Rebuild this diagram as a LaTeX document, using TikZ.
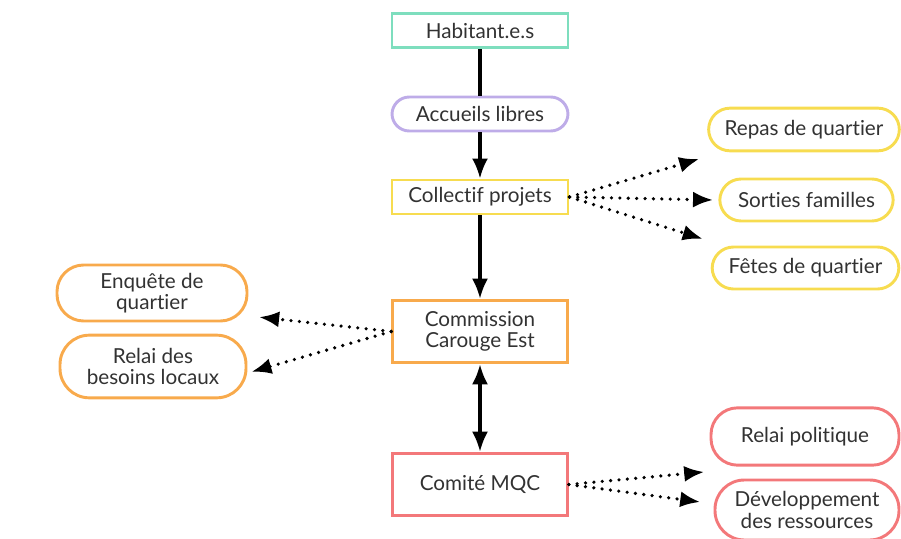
\documentclass[tikz,border=0pt]{standalone}
\usepackage{fontspec}
\setmainfont{Lato}[Ligatures=NoCommon]
\usetikzlibrary{arrows.meta,positioning}
\definecolor{habit}{RGB}{126,222,190}
\definecolor{accueil}{RGB}{190,172,232}
\definecolor{projet}{RGB}{247,220,80}
\definecolor{commis}{RGB}{248,170,76}
\definecolor{comite}{RGB}{243,120,122}
\definecolor{txt}{RGB}{50,50,50}

\begin{document}
\begin{tikzpicture}[x=0.75pt,y=-0.75pt,
    box/.style={draw,line width=2.2pt,text=txt,align=center,font=\fontsize{15.5}{16}\selectfont,inner sep=2pt},
    pill/.style={box,rounded corners=#1},
    pill/.default=13pt,
    flow/.style={line width=2.3pt,-{Latex[length=15pt,width=12pt]}},
    both/.style={line width=2.3pt,{Latex[length=15pt,width=12pt]}-{Latex[length=15pt,width=12pt]}},
    link/.style={line width=2.7pt,line cap=round,dash pattern=on 0pt off 6.3pt,-{Latex[length=15pt,width=12pt]}}]
    \useasboundingbox (0,0) rectangle (901,539);

    % colonne centrale
    \node[box,draw=habit,minimum width=132pt,minimum height=26pt] (hab) at (480,30.5) {Habitant.e.s};
    \node[pill,draw=accueil,minimum width=132pt,minimum height=25.5pt] (acc) at (480,114) {Accueils libres};
    \node[box,draw=projet,minimum width=132pt,minimum height=25.5pt] (col) at (480,197) {Collectif projets};
    \node[box,draw=commis,minimum width=131pt,minimum height=47pt] (com) at (480,331.5) {Commission\\Carouge Est};
    \node[box,draw=comite,minimum width=131pt,minimum height=47pt] (mqc) at (480,484.5) {Comité MQC};

    % activites
    \node[pill=16pt,draw=projet,minimum width=143pt,minimum height=32pt] (rep) at (804,129.5) {Repas de quartier};
    \node[pill=16pt,draw=projet,minimum width=130pt,minimum height=31.5pt] (sor) at (806.5,200) {Sorties familles};
    \node[pill=16pt,draw=projet,minimum width=140pt,minimum height=31.5pt] (fet) at (805.5,268) {Fêtes de quartier};

    \node[pill=20pt,draw=commis,minimum width=142.5pt,minimum height=42pt] (enq) at (152,293) {Enquête de\\quartier};
    \node[pill=22pt,draw=commis,minimum width=139.5pt,minimum height=47pt] (bes) at (153,366.5) {Relai des\\besoins locaux};

    \node[pill=20pt,draw=comite,minimum width=141pt,minimum height=43pt] (pol) at (805,436.5) {Relai politique};
    \node[pill=22pt,draw=comite,minimum width=138pt,minimum height=45pt] (dev) at (807,510) {Développement\\des ressources};

    % fleches pleines
    \draw[line width=2.3pt] (hab) -- (acc);
    \draw[flow] (acc) -- (col);
    \draw[flow] (col) -- (com);
    \draw[both] (com) -- (mqc);

    % liens pointilles
    \draw[link] (col.east) -- ([xshift=-6pt,yshift=-5pt]rep.south west);
    \draw[link] (col.east) -- ([xshift=-4pt]sor.west);
    \draw[link] (col.east) -- ([xshift=-6pt,yshift=5pt]fet.north west);
    \draw[link] (com.west) -- ([xshift=8pt,yshift=4pt]enq.south east);
    \draw[link] (com.west) -- ([xshift=3pt,yshift=-4pt]bes.east);
    \draw[link] (mqc.east) -- ([xshift=-4pt,yshift=-4pt]pol.south west);
    \draw[link] (mqc.east) -- ([xshift=-10pt,yshift=6pt]dev.west);
\end{tikzpicture}
\end{document}
